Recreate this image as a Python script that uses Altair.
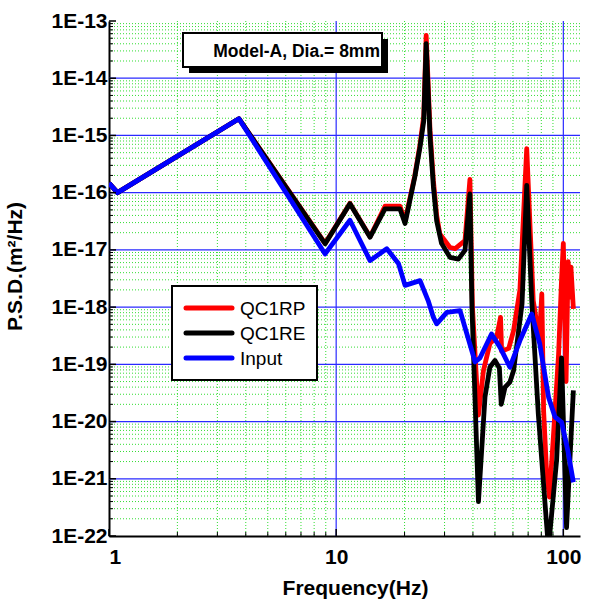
import altair as alt
import pandas as pd

# ---------------- data ----------------
freq_qc1rp = [1.0, 1.09, 3.73, 8.94, 11.5, 14.1, 16.4, 19.1, 20.1, 22.2, 23.4, 24.3, 24.9, 25.9,
              26.8, 27.7, 28.6, 31.7, 33.4, 36.9, 38.8, 39.8, 42.3, 44.5, 47.5, 50.9, 52.9, 53.5,
              57.5, 60.4, 64.4, 69.0, 73.7, 76.0, 78.5, 80.4, 81.9, 84.3, 86.8, 90.4, 95.3, 98.2,
              100.0, 101.5, 102.8, 105.0, 106.5, 108.0, 110.7]
psd_qc1rp = [1.47e-16, 1.0e-16, 1.96e-15, 1.3e-17, 6.5e-17, 1.7e-17, 5.8e-17, 5.8e-17, 3.2e-17,
             2.0e-16, 7.0e-16, 2.2e-15, 5.6e-14, 1.2e-15, 1.6e-16, 4.0e-17, 1.9e-17, 1.1e-17,
             1.05e-17, 1.45e-17, 1.7e-16, 1.0e-18, 1.3e-20, 7.8e-20, 2.3e-19, 3.0e-19, 6.6e-19,
             1.7e-19, 1.9e-19, 3.9e-19, 2.0e-18, 5.9e-16, 1.3e-18, 6.0e-19, 3.0e-19, 1.7e-18,
             1.5e-20, 1.4e-21, 4.8e-22, 5.4e-21, 1.5e-19, 3.0e-18, 1.3e-17, 6.0e-19, 5.0e-20,
             6.2e-18, 1.5e-18, 5.0e-18, 9.3e-19]

freq_qc1re = [1.0, 1.09, 3.73, 8.94, 11.5, 14.1, 16.4, 19.1, 20.1, 22.2, 23.4, 24.3, 24.9, 25.9,
              26.8, 27.7, 29.1, 31.7, 34.5, 36.9, 38.8, 39.6, 42.3, 45.2, 47.5, 50.0, 52.3, 53.3,
              55.4, 58.2, 60.4, 65.8, 69.0, 72.6, 77.6, 83.1, 86.0, 93.4, 98.2, 103.3, 110.7]
psd_qc1re = [1.47e-16, 1.0e-16, 1.96e-15, 1.28e-17, 6.4e-17, 1.67e-17, 5.2e-17, 5.2e-17, 2.9e-17,
             1.9e-16, 6.3e-16, 1.8e-15, 4.0e-14, 9.3e-16, 1.26e-16, 3.2e-17, 1.3e-17, 7.4e-18,
             6.9e-18, 9.8e-18, 9.5e-17, 1.0e-18, 4.0e-22, 2.7e-20, 8.9e-20, 1.17e-19, 8.6e-20,
             2.0e-20, 4.0e-20, 4.9e-20, 7.8e-20, 1.15e-18, 1.34e-16, 1.3e-18, 1.35e-20, 3.6e-22,
             6.0e-23, 2.1e-21, 1.3e-19, 1.4e-22, 3.5e-20]

freq_input = [1.0, 1.09, 3.73, 8.94, 11.5, 14.1, 16.7, 18.8, 20.1, 23.4, 25.4, 26.8, 27.7, 30.7,
              35.1, 40.9, 43.0, 48.3, 52.6, 58.2, 64.4, 72.6, 78.7, 86.2, 91.9, 98.2, 104.7, 110.7]
psd_input = [1.47e-16, 1.0e-16, 1.96e-15, 8.5e-18, 3.3e-17, 6.5e-18, 1.05e-17, 5.8e-18, 2.4e-18,
             2.9e-18, 1.3e-18, 6.6e-19, 5.1e-19, 8.1e-19, 8.7e-19, 1.1e-19, 1.3e-19, 3.4e-19,
             2.0e-19, 8.9e-20, 2.6e-19, 7.6e-19, 2.3e-19, 2.6e-20, 1.2e-20, 9.8e-21, 3.1e-21,
             8.7e-22]

series_names = ["QC1RP", "QC1RE", "Input"]
series_colors = ["#ff0000", "#000000", "#0000ff"]

x_domain = [1, 118.4]
y_domain = [1e-22, 1e-13]
x_tick_values = [1, 10, 100]
y_tick_values = [10.0 ** e for e in range(-22, -12)]
x_minor = [k * 10.0 ** e for e in (0, 1) for k in range(2, 10)]
y_minor = [k * 10.0 ** e for e in range(-22, -13) for k in range(2, 10)]
x_major_grid = [10, 100]
y_major_grid = [10.0 ** e for e in range(-21, -13)]

annotation_text = "Model-A, Dia.= 8mm"

# ---------------- layout constants ----------------
W, H = 471, 515
FONT = "Liberation Sans"

xs = alt.Scale(type="log", domain=x_domain, nice=False)
ys = alt.Scale(type="log", domain=y_domain, nice=False)

x_axis = alt.Axis(
    values=x_tick_values, format="d", title="Frequency(Hz)", grid=False, ticks=False, tickSize=0,
    labelFont=FONT, labelFontWeight="bold", labelFontSize=21, labelColor="black", labelPadding=10,
    titleFont=FONT, titleFontWeight="bold", titleFontSize=21, titleColor="black",
    titleX=246, titleY=58, titleAlign="center", titleBaseline="alphabetic",
    domainColor="black", domainWidth=2,
)
y_axis = alt.Axis(
    values=y_tick_values, labelExpr="'1E-' + round(-log(datum.value) / LN10)",
    title="P.S.D.(m²/Hz)", grid=False, ticks=False, tickSize=0,
    labelFont=FONT, labelFontWeight="bold", labelFontSize=21, labelColor="black", labelPadding=2,
    titleFont=FONT, titleFontWeight="bold", titleFontSize=21, titleColor="black",
    titleX=-88, titleY=245, titleAngle=270, titleAlign="center", titleBaseline="alphabetic",
    domainColor="black", domainWidth=2,
)


def X(field):
    return alt.X(field, scale=xs, axis=x_axis, title="Frequency(Hz)")


def Y(field):
    return alt.Y(field, scale=ys, axis=y_axis, title="P.S.D.(m²/Hz)")


# ---------------- layers ----------------
minor_v = alt.Chart(pd.DataFrame({"f": x_minor})).mark_rule(
    color="#33dd33", strokeWidth=1, strokeDash=[1, 2]
).encode(x=X("f:Q"))

minor_h = alt.Chart(pd.DataFrame({"p": y_minor})).mark_rule(
    color="#33dd33", strokeWidth=1, strokeDash=[1, 2]
).encode(y=Y("p:Q"))

major_v = alt.Chart(pd.DataFrame({"f": x_major_grid})).mark_rule(
    color="#2a2aff", strokeWidth=1.2
).encode(x=X("f:Q"))

major_h = alt.Chart(pd.DataFrame({"p": y_major_grid})).mark_rule(
    color="#2a2aff", strokeWidth=1.2
).encode(y=Y("p:Q"))

# inward ticks
ytick_major = alt.Chart(pd.DataFrame({"p": y_tick_values})).mark_rule(
    color="black", strokeWidth=1.5
).encode(y=Y("p:Q"), x=alt.value(0), x2=alt.value(7))
ytick_minor = alt.Chart(pd.DataFrame({"p": y_minor})).mark_rule(
    color="black", strokeWidth=1
).encode(y=Y("p:Q"), x=alt.value(0), x2=alt.value(4))
xtick_major = alt.Chart(pd.DataFrame({"f": x_tick_values})).mark_rule(
    color="black", strokeWidth=1.5
).encode(x=X("f:Q"), y=alt.value(H), y2=alt.value(H - 7))
xtick_minor = alt.Chart(pd.DataFrame({"f": x_minor})).mark_rule(
    color="black", strokeWidth=1
).encode(x=X("f:Q"), y=alt.value(H), y2=alt.value(H - 4))


def series_layer(freq, psd, color):
    df = pd.DataFrame({"f": freq, "p": psd})
    return alt.Chart(df).mark_line(color=color, strokeWidth=4.8, clip=True, strokeJoin="round").encode(
        x=X("f:Q"), y=Y("p:Q"))


line_rp = series_layer(freq_qc1rp, psd_qc1rp, series_colors[0])
line_re = series_layer(freq_qc1re, psd_qc1re, series_colors[1])
line_in = series_layer(freq_input, psd_input, series_colors[2])

# annotation box with shadow
ann_df = pd.DataFrame({"label": [annotation_text]})
ann_shadow = alt.Chart(ann_df).mark_rect(color="black").encode(
    x=alt.value(80), x2=alt.value(279), y=alt.value(18), y2=alt.value(52))
ann_box = alt.Chart(ann_df).mark_rect(fill="white", stroke="black", strokeWidth=2).encode(
    x=alt.value(74), x2=alt.value(273), y=alt.value(12), y2=alt.value(46))
ann_text = alt.Chart(ann_df).mark_text(
    font=FONT, fontWeight="bold", fontSize=17.5, align="right", baseline="alphabetic", color="black"
).encode(x=alt.value(271), y=alt.value(36), text="label:N")

# legend box
leg_df = pd.DataFrame({"series": series_names, "color": series_colors})
leg_box = alt.Chart(pd.DataFrame({"a": [0]})).mark_rect(
    fill="white", stroke="black", strokeWidth=2).encode(
    x=alt.value(63), x2=alt.value(208), y=alt.value(265), y2=alt.value(359))
leg_layers = []
row_y = [287, 312, 337]
for i, (name, col) in enumerate(zip(series_names, series_colors)):
    d = leg_df[leg_df.series == name]
    leg_layers.append(alt.Chart(d).mark_rule(color=col, strokeWidth=5, strokeCap="round").encode(
        x=alt.value(77), x2=alt.value(123), y=alt.value(row_y[i])))
    leg_layers.append(alt.Chart(d).mark_text(
        font=FONT, fontSize=19, align="left", baseline="alphabetic", color="black").encode(
        x=alt.value(131), y=alt.value(row_y[i] + 7), text="series:N"))

chart = alt.layer(
    minor_v, minor_h, major_v, major_h,
    line_rp, line_re, line_in,
    ytick_minor, ytick_major, xtick_minor, xtick_major,
    ann_shadow, ann_box, ann_text,
    leg_box, *leg_layers,
).properties(
    width=W, height=H,
    padding={"left": 109, "top": 21, "right": 16, "bottom": 70},
    autosize="none",
    background="white",
).configure_view(stroke=None)

chart.save("out.html", embed_options={"renderer": "svg", "actions": False})
